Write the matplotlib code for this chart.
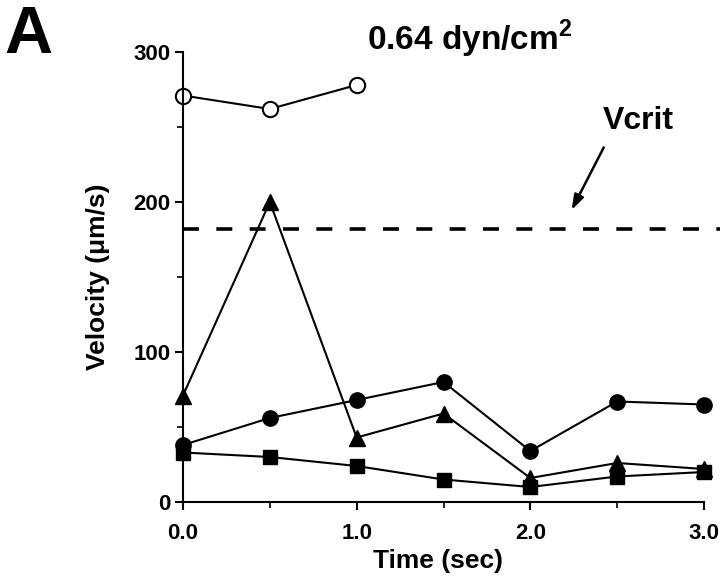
import matplotlib.pyplot as plt

plt.rcParams['font.family'] = ['Liberation Sans', 'DejaVu Sans']
plt.rcParams['font.weight'] = 'bold'
plt.rcParams['mathtext.fontset'] = 'custom'
plt.rcParams['mathtext.rm'] = 'Liberation Sans:bold'
plt.rcParams['mathtext.bf'] = 'Liberation Sans:bold'
plt.rcParams['lines.scale_dashes'] = False

# time points (sec)
time = [0.0, 0.5, 1.0, 1.5, 2.0, 2.5, 3.0]
time_open = [0.0, 0.5, 1.0]

# velocities (um/s)
open_circles = [271, 262, 278]
triangles = [71, 200, 43, 59, 16, 26, 22]
filled_circles = [38, 56, 68, 80, 34, 67, 65]
squares = [33, 30, 24, 15, 10, 17, 20]
vcrit = 182

fig = plt.figure(figsize=(7.2, 5.81), dpi=100)
W, H = 720, 581
x0, x1, y0, y1 = 183, 704, 502, 52
ax = fig.add_axes([x0 / W, 1 - y0 / H, (x1 - x0) / W, (y0 - y1) / H])

kw = dict(color='black', lw=1.5, clip_on=False)
ax.plot(time_open, open_circles, marker='o', ms=11, mfc='white', mec='black', mew=1.5, **kw)
ax.plot(time, triangles, marker='^', ms=11.5, **kw)
ax.plot(time, filled_circles, marker='o', ms=11, **kw)
ax.plot(time, squares, marker='s', ms=10, **kw)

ax.plot([0, 3.09], [vcrit, vcrit], color='black', lw=2.6, dashes=(11.5, 12.5),
        clip_on=False)

ax.annotate('', xy=(2.23, 193), xytext=(2.43, 238),
            arrowprops=dict(arrowstyle='-|>,head_length=0.9,head_width=0.3',
                            color='black', lw=1.8))
ax.text(2.42, 244, 'Vcrit', fontsize=23, ha='left', va='bottom')

ax.set_xlim(0, 3)
ax.set_ylim(0, 300)
for s in ['top', 'right']:
    ax.spines[s].set_visible(False)
ax.spines['left'].set_linewidth(1.5)
ax.spines['bottom'].set_linewidth(1.5)

ax.set_xticks([0, 1, 2, 3])
ax.set_xticklabels(['0.0', '1.0', '2.0', '3.0'])
ax.set_xticks([0.5, 1.5, 2.5], minor=True)
ax.set_yticks([0, 100, 200, 300])
ax.set_yticks([50, 150, 250], minor=True)
ax.tick_params(which='major', direction='out', length=6, width=1.5, labelsize=16)
ax.tick_params(which='minor', direction='out', length=4, width=1.2)
ax.tick_params(axis='x', which='major', pad=9)
ax.tick_params(axis='y', which='major', pad=3)

ax.set_xlabel('Time (sec)', fontsize=19, fontweight='bold')
ax.set_ylabel('Velocity (\u03bcm/s)', fontsize=19, fontweight='bold')
ax.xaxis.set_label_coords(0.49, -0.105)
ax.yaxis.set_label_coords(-0.14, 0.5)

fig.text(4 / W, 1 - 53 / H, 'A', fontsize=48, fontweight='bold', ha='left', va='baseline')
fig.text(470 / W, 1 - 50 / H, r'0.64 dyn/cm$^{2}$', fontsize=24, fontweight='bold',
         ha='center', va='baseline')

fig.savefig('out.png', dpi=100)
